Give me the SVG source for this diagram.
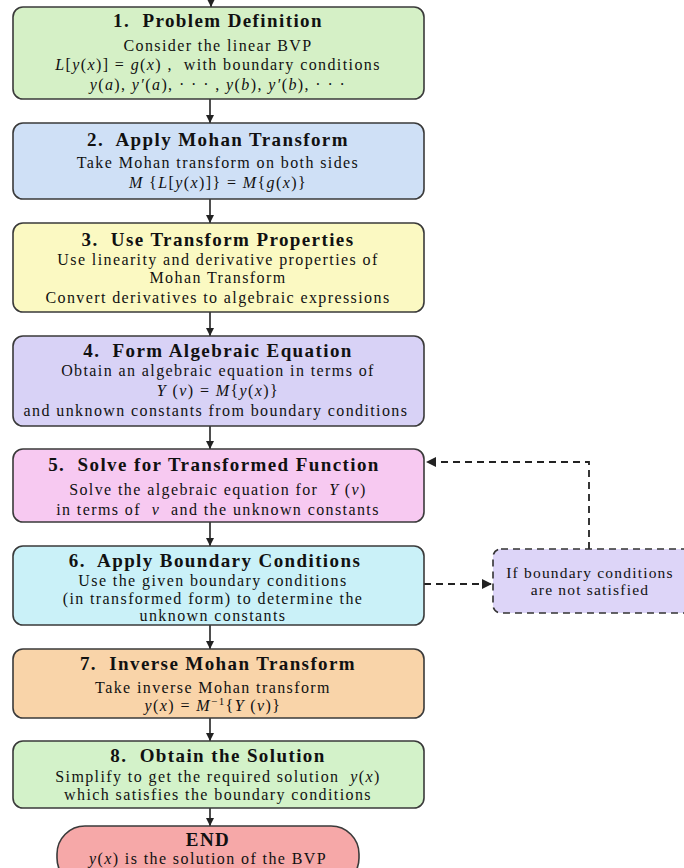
<svg xmlns="http://www.w3.org/2000/svg" width="684" height="868" viewBox="0 0 684 868" xml:space="preserve">
<defs>
<marker id="ah" viewBox="0 0 10 10" refX="10" refY="5" markerWidth="8" markerHeight="8" markerUnits="userSpaceOnUse" orient="auto">
<path d="M0,0 L10,5 L0,10 z" fill="#222"/>
</marker>
<marker id="ahd" viewBox="0 0 10 10" refX="10" refY="5" markerWidth="10" markerHeight="10" markerUnits="userSpaceOnUse" orient="auto">
<path d="M0,0 L10,5 L0,10 z" fill="#222"/>
</marker>
</defs>
<style>
.box{stroke:#3a3a3a;stroke-width:1.6}
.t{font-family:"Liberation Serif",serif;font-weight:bold;font-size:19px;letter-spacing:1.4px;fill:#111;text-anchor:middle;white-space:pre}
.b{font-family:"Liberation Serif",serif;font-size:16px;letter-spacing:1.4px;fill:#111;text-anchor:middle;white-space:pre}
.s{font-size:15.5px;letter-spacing:1.2px}
.i{font-style:italic}
.con{stroke:#222;stroke-width:1.6;fill:none}
.dash{stroke:#222;stroke-width:1.8;fill:none;stroke-dasharray:7,5}
</style>
<rect width="684" height="868" fill="#ffffff"/>

<g id="connectors">
<line class="con" x1="211" y1="0" x2="211" y2="7" marker-end="url(#ah)"/>
<line class="con" x1="210" y1="99" x2="210" y2="123" marker-end="url(#ah)"/>
<line class="con" x1="210" y1="199" x2="210" y2="223" marker-end="url(#ah)"/>
<line class="con" x1="210" y1="312" x2="210" y2="336" marker-end="url(#ah)"/>
<line class="con" x1="210" y1="426" x2="210" y2="449" marker-end="url(#ah)"/>
<line class="con" x1="210" y1="522" x2="210" y2="546" marker-end="url(#ah)"/>
<line class="con" x1="210" y1="625" x2="210" y2="649" marker-end="url(#ah)"/>
<line class="con" x1="210" y1="718" x2="210" y2="741" marker-end="url(#ah)"/>
<line class="con" x1="210" y1="808" x2="210" y2="826" marker-end="url(#ah)"/>
<line class="dash" x1="424" y1="584" x2="492" y2="584" marker-end="url(#ahd)"/>
<polyline class="dash" points="589,549 589,462 426,462" marker-end="url(#ahd)"/>
</g>

<g id="n1">
<rect class="box" x="13" y="7" width="411" height="92" rx="10" fill="#d5f0c6"/>
<text class="t" x="218" y="27">1.  Problem Definition</text>
<text class="b" x="218" y="51">Consider the linear BVP</text>
<text class="b" x="218" y="70"><tspan class="i">L</tspan>[<tspan class="i">y</tspan>(<tspan class="i">x</tspan>)] = <tspan class="i">g</tspan>(<tspan class="i">x</tspan>) ,  with boundary conditions</text>
<text class="b" x="218" y="90"><tspan class="i">y</tspan>(<tspan class="i">a</tspan>), <tspan class="i">y′</tspan>(<tspan class="i">a</tspan>), · · · , <tspan class="i">y</tspan>(<tspan class="i">b</tspan>), <tspan class="i">y′</tspan>(<tspan class="i">b</tspan>), · · ·</text>
</g>

<g id="n2">
<rect class="box" x="13" y="123" width="411" height="76" rx="10" fill="#cfe0f6"/>
<text class="t" x="218" y="146">2.  Apply Mohan Transform</text>
<text class="b" x="218" y="168">Take Mohan transform on both sides</text>
<text class="b" x="218" y="188"><tspan class="i">M</tspan> {<tspan class="i">L</tspan>[<tspan class="i">y</tspan>(<tspan class="i">x</tspan>)]} = <tspan class="i">M</tspan>{<tspan class="i">g</tspan>(<tspan class="i">x</tspan>)}</text>
</g>

<g id="n3">
<rect class="box" x="13" y="223" width="411" height="89" rx="10" fill="#fbf9c2"/>
<text class="t" x="218" y="246">3.  Use Transform Properties</text>
<text class="b" x="218" y="265">Use linearity and derivative properties of</text>
<text class="b" x="218" y="283">Mohan Transform</text>
<text class="b" x="218" y="303">Convert derivatives to algebraic expressions</text>
</g>

<g id="n4">
<rect class="box" x="13" y="336" width="411" height="90" rx="10" fill="#d8d2f6"/>
<text class="t" x="218" y="357">4.  Form Algebraic Equation</text>
<text class="b" x="218" y="376">Obtain an algebraic equation in terms of</text>
<text class="b" x="218" y="396"><tspan class="i">Y</tspan> (<tspan class="i">v</tspan>) = <tspan class="i">M</tspan>{<tspan class="i">y</tspan>(<tspan class="i">x</tspan>)}</text>
<text class="b" x="216" y="416">and unknown constants from boundary conditions</text>
</g>

<g id="n5">
<rect class="box" x="13" y="449" width="411" height="73" rx="10" fill="#f7c9f1"/>
<text class="t" x="214" y="471">5.  Solve for Transformed Function</text>
<text class="b" x="218" y="495">Solve the algebraic equation for  <tspan class="i">Y</tspan> (<tspan class="i">v</tspan>)</text>
<text class="b" x="218" y="515">in terms of  <tspan class="i">v</tspan>  and the unknown constants</text>
</g>

<g id="n6">
<rect class="box" x="13" y="546" width="411" height="79" rx="10" fill="#caf1f8"/>
<text class="t" x="215" y="567">6.  Apply Boundary Conditions</text>
<text class="b" x="213" y="586">Use the given boundary conditions</text>
<text class="b" x="213" y="604">(in transformed form) to determine the</text>
<text class="b" x="213" y="621">unknown constants</text>
</g>

<g id="side">
<rect x="493" y="549" width="200" height="64" rx="8" fill="#ddd5f8" stroke="#333" stroke-width="1.6" stroke-dasharray="7,5"/>
<text class="b s" x="590" y="578">If boundary conditions</text>
<text class="b s" x="590" y="595">are not satisfied</text>
</g>

<g id="n7">
<rect class="box" x="13" y="649" width="411" height="69" rx="10" fill="#f9d4a9"/>
<text class="t" x="218" y="670">7.  Inverse Mohan Transform</text>
<text class="b" x="213" y="693">Take inverse Mohan transform</text>
<text class="b" x="213" y="711"><tspan class="i">y</tspan>(<tspan class="i">x</tspan>) = <tspan class="i">M</tspan><tspan font-size="11" dy="-6">−1</tspan><tspan dy="6">{</tspan><tspan class="i">Y</tspan> (<tspan class="i">v</tspan>)}</text>
</g>

<g id="n8">
<rect class="box" x="13" y="741" width="411" height="67" rx="10" fill="#d3f2c9"/>
<text class="t" x="218" y="762">8.  Obtain the Solution</text>
<text class="b" x="218" y="782">Simplify to get the required solution  <tspan class="i">y</tspan>(<tspan class="i">x</tspan>)</text>
<text class="b" x="218" y="800">which satisfies the boundary conditions</text>
</g>

<g id="end">
<rect class="box" x="57" y="826" width="302" height="60" rx="28" fill="#f6a8a8"/>
<text class="t" x="208" y="846">END</text>
<text class="b" x="208" y="864"><tspan class="i">y</tspan>(<tspan class="i">x</tspan>) is the solution of the BVP</text>
</g>
</svg>
